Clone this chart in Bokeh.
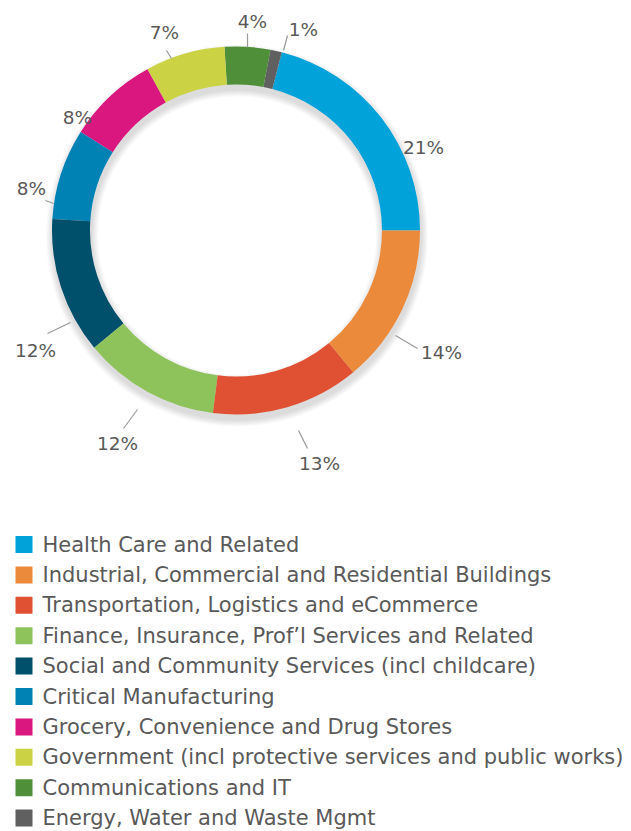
import math
from bokeh.plotting import figure
from bokeh.models import Range1d, ColumnDataSource
from bokeh.core.properties import value
from bokeh.embed import file_html
from bokeh.resources import INLINE

# ---- data ----
categories = [
    "Health Care and Related",
    "Industrial, Commercial and Residential Buildings",
    "Transportation, Logistics and eCommerce",
    "Finance, Insurance, Prof\u2019l Services and Related",
    "Social and Community Services (incl childcare)",
    "Critical Manufacturing",
    "Grocery, Convenience and Drug Stores",
    "Government (incl protective services and public works)",
    "Communications and IT",
    "Energy, Water and Waste Mgmt",
]
shares = [21, 14, 13, 12, 12, 8, 8, 7, 4, 1]
colors = ["#00a3d9", "#eb8a3a", "#e05033", "#8dc35a", "#004f6b",
          "#0082b5", "#d9177f", "#cbd344", "#4f8f3a", "#606060"]
# order in which slices go round anticlockwise from 3 o'clock
ring_order = [0, 9, 8, 7, 6, 5, 4, 3, 2, 1]

# ---- layout (screen pixel coordinates of the reference) ----
W, H = 631, 831
CX, CY = 235.5, 230
R_OUT, R_IN = 184, 146
label_pos = {0: (423, 147), 1: (441, 352), 2: (319, 463), 3: (117, 443),
             4: (35, 350), 5: (31, 188), 6: (77, 117), 7: (164, 32),
             8: (252, 21), 9: (303, 29)}
leaders = {1: ((395, 335), (417, 348)), 2: ((298, 430), (307, 448)),
           3: ((137, 409), (123, 428)), 4: ((70, 322), (47, 333)),
           5: ((45, 200), (53, 203)), 7: ((166, 50), (171, 58)),
           8: ((247, 33), (247, 47)), 9: ((287, 35), (283, 50))}
LEG_Y0, LEG_DY = 544, 30.4
TEXT_COLOR = "#595959"
FONT = "DejaVu Sans"

def fy(sy):
    return 831 - sy

p = figure(width=W, height=H, output_backend="svg", toolbar_location=None,
           x_range=Range1d(0, W), y_range=Range1d(831 - H, 831),
           min_border=0)
p.axis.visible = False
p.grid.visible = False
p.outline_line_color = None
p.background_fill_color = "white"

# soft drop shadow
for k in range(1, 8):
    p.annulus(x=CX + 1, y=fy(CY + 5), inner_radius=R_IN - k, outer_radius=R_OUT + k,
              fill_color="#000000", fill_alpha=0.018, line_color=None)

# ring slices
total = float(sum(shares))
starts, ends, cols = [], [], []
acc = 0.0
for i in ring_order:
    a0 = acc / total * 2 * math.pi
    acc += shares[i]
    a1 = acc / total * 2 * math.pi
    starts.append(a0)
    ends.append(a1)
    cols.append(colors[i])
src = ColumnDataSource(dict(start=starts, end=ends, color=cols))
p.annular_wedge(x=CX, y=fy(CY), inner_radius=R_IN, outer_radius=R_OUT,
                start_angle="start", end_angle="end", fill_color="color",
                line_color=None, source=src)

# leader lines
for i, ((x0, y0), (x1, y1)) in leaders.items():
    p.line([x0, x1], [fy(y0), fy(y1)], line_color="#9a9a9a", line_width=1.2)

# percentage labels
lx = [label_pos[i][0] for i in range(len(shares))]
ly = [fy(label_pos[i][1]) for i in range(len(shares))]
lt = [f"{v}%" for v in shares]
p.text(x=lx, y=ly, text=lt, text_font=value(FONT), text_font_size="18.5px",
       text_color=TEXT_COLOR, text_align="center", text_baseline="middle")

# legend
ys = [fy(LEG_Y0 + LEG_DY * i) for i in range(len(categories))]
p.rect(x=[23.5] * len(categories), y=ys, width=17, height=17,
       fill_color=colors, line_color=None)
p.text(x=[42] * len(categories), y=ys, text=categories, text_font=value(FONT),
       text_font_size="21px", text_color=TEXT_COLOR, text_align="left",
       text_baseline="middle")

open("out.html", "w").write(file_html(p, INLINE))
